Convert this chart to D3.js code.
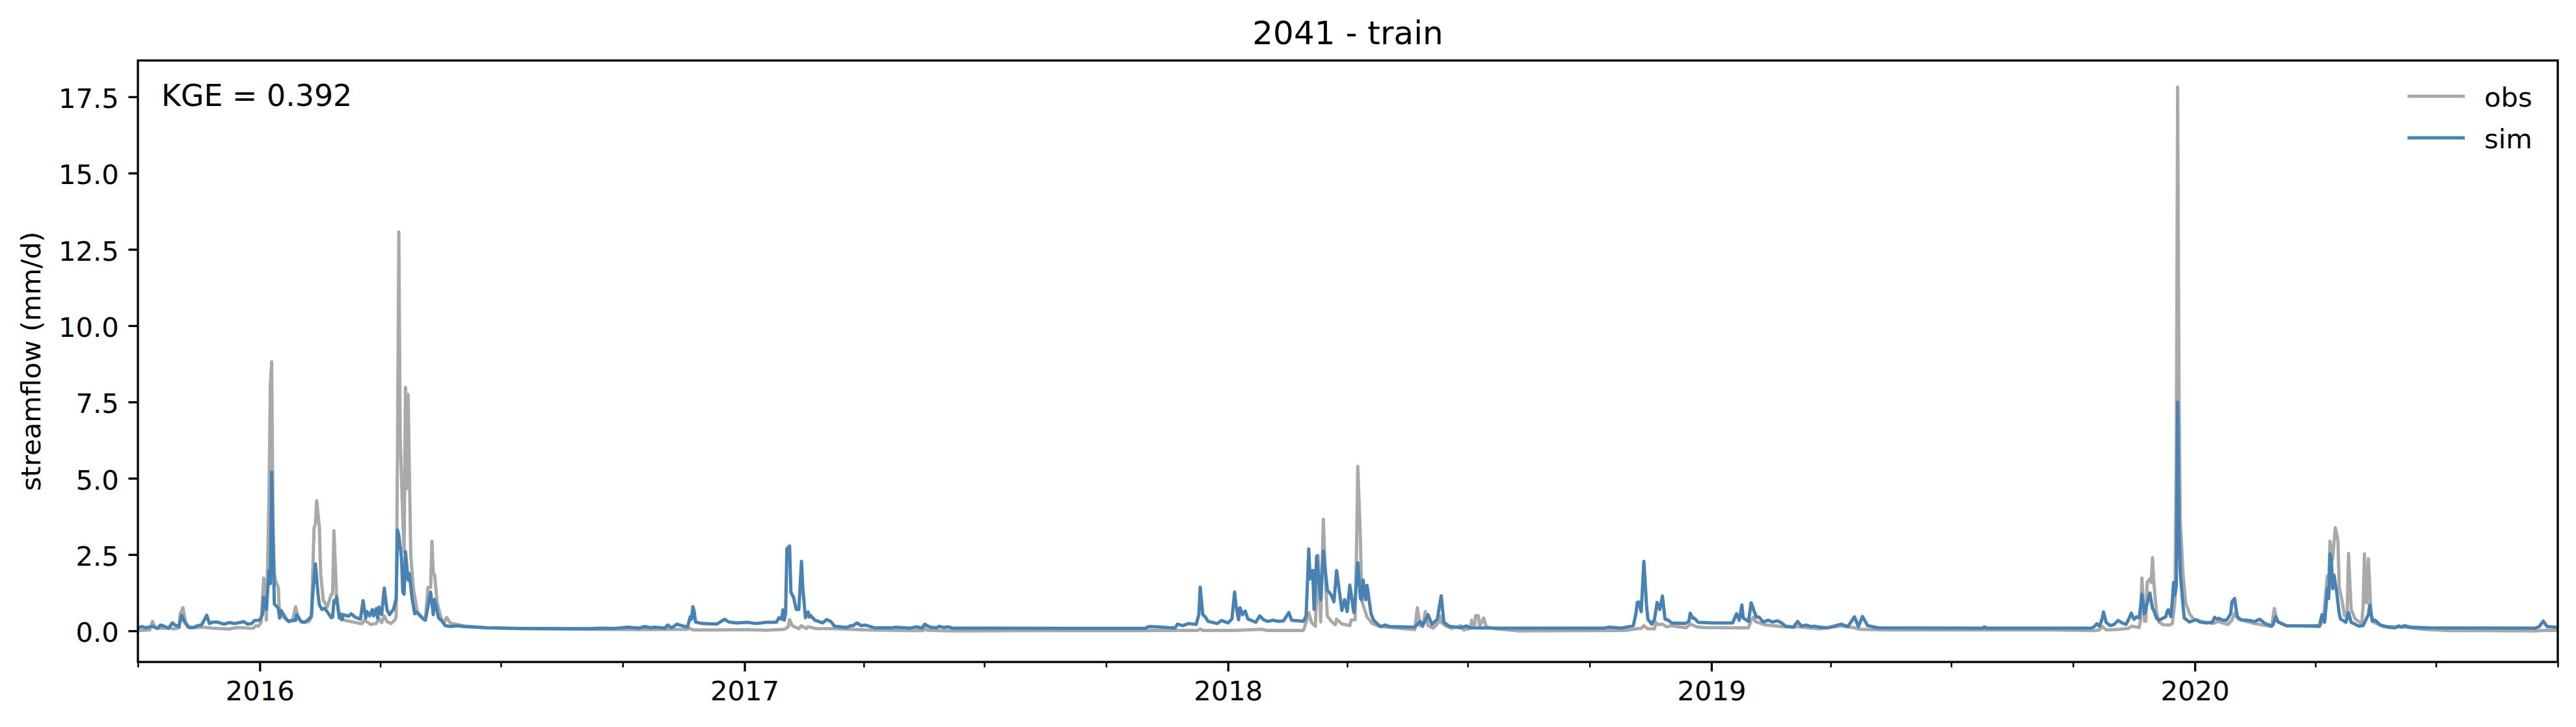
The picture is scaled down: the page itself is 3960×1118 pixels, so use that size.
<!DOCTYPE html>
<html>
<head>
<meta charset="utf-8">
<script src="https://cdn.jsdelivr.net/npm/d3@7/dist/d3.min.js"></script>
<style>html,body{margin:0;padding:0;background:#fff}svg{display:block}text{font-family:"DejaVu Sans",sans-serif;fill:#000}</style>
</head>
<body>
<script>
// Values: [days since 2015-10-01, streamflow in mm/d]
const startDate = "2015-10-01";
const endDate = "2020-10-01";
const titleText = "2041 - train";
const kgeText = "KGE = 0.392";
const yLabelText = "streamflow (mm/d)";
const yTickValues = [0, 2.5, 5, 7.5, 10, 12.5, 15, 17.5];
const yDomain = [-1.02, 18.69];
const yearTicks = ["2016-01-01","2017-01-01","2018-01-01","2019-01-01","2020-01-01"];
const seriesNames = ["obs", "sim"];

const obsSeries = [[0,.01],[9,.03],[11,.31],[13,.1],[20,.08],[24,.1],[27,.06],[31,.1],[32,.56],[34,.76],[36,.28],[39,.1],[49,.12],[56,.09],[69,.06],[75,.11],[87,.08],[89,.17],[91,.15],[93,.28],[95,1.73],[97,.35],[98,2.27],[99,4.5],[100,8.05],[101,8.82],[102,3.5],[103,1.9],[104,1.63],[106,1.42],[107,.5],[110,.45],[114,.3],[117,.38],[119,.79],[121,.42],[124,.28],[129,.3],[131,.45],[133,3.37],[134,3.5],[135,4.26],[137,3.4],[138,1.85],[140,1.0],[143,.78],[146,1.2],[147,1.2],[148,3.28],[150,1.13],[152,.48],[156,.35],[169,.23],[171,.35],[176,.21],[180,.24],[182,.42],[184,.27],[186,.49],[188,.31],[191,.24],[194,.35],[195,.46],[196,6.0],[197,13.07],[198,6.4],[200,3.68],[201,2.58],[202,7.98],[203,4.66],[204,7.75],[206,2.48],[208,1.38],[211,.63],[215,.4],[217,.35],[219,1.42],[221,1.42],[222,2.94],[223,1.89],[224,1.83],[226,.91],[229,.4],[231,.25],[233,.44],[236,.25],[242,.2],[248,.15],[264,.1],[290,.07],[340,.05],[380,.04],[415,.05],[417,.08],[419,.03],[436,.03],[460,.04],[474,.02],[488,.05],[491,.13],[492,.37],[494,.17],[499,.07],[501,.17],[503,.11],[505,.08],[506,.14],[511,.08],[526,.07],[550,.03],[583,.01],[593,.01],[594,.1],[596,.02],[615,.0],[632,.0],[700,.01],[760,.01],[800,.015],[802,.06],[804,.015],[828,.015],[848,.05],[853,.015],[880,.015],[882,.28],[884,.6],[886,.28],[889,.15],[891,2.48],[893,.29],[895,3.65],[897,1.34],[898,.49],[901,.31],[904,.2],[905,.38],[909,.23],[915,.17],[916,.36],[919,.36],[920,2.5],[921,5.39],[923,3.0],[924,.99],[928,.45],[932,.24],[938,.14],[964,.04],[966,.76],[968,.17],[970,.14],[972,.63],[974,.17],[978,.09],[982,.28],[983,.49],[984,.28],[987,.17],[992,.08],[999,.17],[1001,.03],[1006,.08],[1007,.35],[1009,.1],[1010,.5],[1012,.5],[1013,.15],[1016,.42],[1018,.13],[1025,.07],[1041,.0],[1123,.015],[1131,.065],[1135,.08],[1137,.17],[1140,.065],[1145,.065],[1146,.28],[1148,.2],[1151,.22],[1154,.13],[1158,.17],[1169,.1],[1172,.22],[1177,.13],[1182,.11],[1205,.1],[1216,.1],[1218,.35],[1220,.45],[1221,.31],[1228,.2],[1243,.13],[1254,.13],[1270,.065],[1286,.16],[1296,.1],[1300,.05],[1320,.03],[1442,.03],[1478,.01],[1481,.03],[1483,.15],[1486,.03],[1496,.05],[1503,.08],[1505,.15],[1511,.11],[1512,.35],[1513,1.73],[1515,.31],[1516,.31],[1517,1.59],[1519,1.7],[1520,1.59],[1521,2.4],[1522,1.59],[1524,.63],[1526,.28],[1529,.2],[1534,.19],[1536,.24],[1538,1.0],[1539,6.0],[1540,17.82],[1541,8.0],[1542,3.6],[1544,1.9],[1546,.92],[1549,.56],[1552,.38],[1557,.31],[1567,.24],[1570,.31],[1578,.21],[1581,.35],[1583,.58],[1586,.38],[1598,.24],[1611,.14],[1613,.73],[1615,.31],[1622,.17],[1647,.14],[1648,.21],[1650,.35],[1653,1.8],[1654,1.06],[1655,2.94],[1657,2.34],[1659,3.38],[1661,2.98],[1662,1.42],[1664,1.02],[1666,.49],[1668,.63],[1669,2.54],[1671,.7],[1674,.39],[1679,.24],[1680,.78],[1681,2.52],[1682,.92],[1683,.92],[1684,2.36],[1686,.56],[1688,.28],[1696,.14],[1712,.12],[1725,.05],[1745,.01],[1810,.0],[1819,.02],[1826,.01]];

const simSeries = [[0,.1],[3,.14],[6,.1],[11,.15],[15,.08],[17,.19],[20,.15],[23,.08],[26,.26],[28,.19],[31,.14],[33,.51],[35,.31],[38,.12],[42,.11],[45,.17],[48,.19],[52,.51],[54,.24],[56,.28],[60,.29],[65,.22],[69,.27],[73,.24],[80,.3],[83,.22],[86,.24],[88,.34],[92,.35],[94,.53],[95,1.1],[97,.7],[99,1.98],[100,1.55],[101,5.2],[102,3.0],[103,.88],[106,.74],[107,.42],[108,.67],[112,.39],[114,.31],[117,.34],[119,.34],[120,.53],[123,.31],[126,.28],[129,.38],[131,.49],[132,1.2],[134,2.2],[136,1.2],[137,.85],[139,.7],[141,.74],[144,.56],[146,.43],[147,.45],[148,.99],[149,.92],[150,1.12],[152,.42],[153,.56],[154,.36],[155,.53],[159,.48],[161,.56],[164,.45],[168,.38],[170,.99],[172,.42],[173,.63],[175,.49],[177,.7],[178,.49],[180,.73],[181,.42],[182,.78],[184,.53],[186,1.4],[188,.7],[190,.53],[193,.71],[195,1.06],[196,3.3],[197,3.12],[199,2.4],[200,1.27],[201,1.2],[202,2.59],[204,1.66],[205,1.88],[207,1.06],[209,.56],[210,.63],[213,.49],[217,.35],[218,.56],[221,1.27],[223,.53],[224,1.03],[227,.42],[229,.35],[232,.17],[236,.14],[241,.17],[246,.14],[264,.1],[290,.08],[340,.07],[350,.09],[360,.08],[370,.12],[378,.09],[383,.14],[387,.1],[390,.12],[398,.09],[400,.19],[403,.1],[407,.22],[412,.15],[415,.13],[417,.46],[418,.38],[419,.79],[420,.63],[421,.29],[426,.24],[437,.22],[443,.38],[446,.29],[452,.26],[460,.28],[467,.24],[474,.28],[482,.28],[484,.43],[486,.38],[487,.69],[488,.35],[489,.56],[490,2.69],[492,2.78],[493,1.27],[495,1.1],[497,.7],[499,.7],[501,2.28],[502,1.4],[504,.43],[506,.62],[507,.45],[508,.5],[511,.35],[517,.26],[520,.37],[523,.31],[526,.15],[535,.11],[538,.17],[540,.17],[543,.26],[546,.17],[549,.19],[556,.1],[570,.1],[572,.12],[583,.09],[588,.13],[592,.09],[594,.22],[598,.12],[603,.1],[605,.15],[608,.11],[612,.13],[615,.09],[632,.09],[700,.085],[761,.085],[763,.14],[770,.13],[780,.1],[783,.1],[785,.22],[789,.17],[793,.24],[799,.21],[801,.53],[802,1.43],[804,.53],[806,.45],[808,.31],[815,.24],[818,.34],[823,.26],[826,.39],[828,1.27],[829,.85],[831,.36],[832,.76],[834,.53],[836,.65],[838,.39],[844,.28],[847,.49],[850,.36],[853,.31],[857,.35],[861,.31],[865,.33],[869,.6],[871,.35],[880,.31],[882,.5],[884,2.68],[885,1.7],[887,1.98],[888,.7],[890,2.45],[893,1.02],[895,2.62],[898,1.34],[901,1.17],[903,.95],[905,1.98],[909,.67],[911,1.02],[913,.63],[915,1.5],[918,.6],[919,1.02],[921,2.23],[923,1.06],[924,1.02],[925,1.66],[927,1.02],[928,1.49],[931,.56],[933,.35],[938,.14],[942,.19],[945,.14],[964,.12],[968,.31],[970,.17],[974,.53],[977,.21],[981,.38],[984,1.15],[986,.28],[990,.15],[999,.1],[1003,.16],[1006,.1],[1025,.09],[1107,.09],[1111,.12],[1120,.09],[1125,.13],[1129,.17],[1131,.56],[1132,.93],[1133,.95],[1135,.63],[1137,2.28],[1139,.85],[1140,.38],[1143,.22],[1145,.38],[1147,.93],[1149,.7],[1151,1.14],[1153,.38],[1155,.36],[1158,.26],[1168,.24],[1171,.31],[1172,.58],[1174,.41],[1175,.42],[1178,.28],[1189,.26],[1204,.26],[1207,.56],[1209,.35],[1211,.85],[1212,.42],[1216,.31],[1218,.92],[1220,.67],[1222,.45],[1224,.45],[1227,.29],[1231,.35],[1234,.29],[1238,.33],[1241,.26],[1244,.15],[1250,.12],[1253,.31],[1256,.16],[1260,.19],[1263,.14],[1266,.15],[1270,.12],[1276,.1],[1286,.22],[1291,.14],[1296,.46],[1299,.14],[1302,.47],[1306,.17],[1314,.1],[1393,.09],[1394,.13],[1396,.09],[1442,.09],[1475,.09],[1477,.14],[1479,.23],[1481,.15],[1483,.4],[1484,.62],[1486,.28],[1489,.17],[1492,.21],[1495,.34],[1498,.26],[1501,.21],[1503,.38],[1505,.58],[1507,.38],[1509,.46],[1511,.42],[1513,1.2],[1515,.56],[1519,1.24],[1521,.74],[1522,.67],[1524,.42],[1526,.34],[1527,.37],[1531,.46],[1532,.63],[1533,.69],[1535,.46],[1537,1.59],[1538,1.17],[1539,1.49],[1540,7.5],[1541,3.5],[1542,1.9],[1544,.85],[1545,.42],[1549,.29],[1554,.37],[1557,.29],[1562,.26],[1566,.28],[1568,.44],[1570,.38],[1571,.41],[1574,.35],[1577,.35],[1580,.56],[1581,.95],[1583,1.06],[1585,.46],[1588,.36],[1595,.34],[1598,.3],[1602,.38],[1606,.24],[1611,.16],[1612,.2],[1614,.46],[1616,.29],[1622,.17],[1647,.16],[1649,.53],[1651,.28],[1652,.8],[1653,1.38],[1654,1.06],[1655,2.52],[1656,2.38],[1657,1.38],[1658,1.83],[1660,1.3],[1662,.56],[1663,.39],[1667,.28],[1669,.6],[1671,.28],[1677,.15],[1680,.17],[1684,.53],[1685,.85],[1687,.31],[1689,.35],[1693,.19],[1699,.12],[1704,.1],[1707,.16],[1709,.12],[1711,.17],[1716,.12],[1729,.1],[1810,.09],[1813,.14],[1816,.32],[1819,.14],[1826,.12]];

const width = 3960, height = 1118;
const plotLeft = 212, plotRight = 3932, plotTop = 93, plotBottom = 1018;
const pt = 300 / 72;

const start = d3.isoParse(startDate);
const toDate = day => d3.utcDay.offset(start, day);

const x = d3.scaleUtc().domain([start, d3.isoParse(endDate)]).range([plotLeft, plotRight]);
const y = d3.scaleLinear().domain(yDomain).range([plotBottom, plotTop]);

const svg = d3.select("body").append("svg").attr("width", width).attr("height", height);
svg.append("rect").attr("width", width).attr("height", height).attr("fill", "#fff");
svg.append("defs").append("clipPath").attr("id", "plot").append("rect")
  .attr("x", plotLeft).attr("y", plotTop).attr("width", plotRight - plotLeft).attr("height", plotBottom - plotTop);

const line = d3.line().x(d => x(toDate(d[0]))).y(d => y(d[1]));
const colors = {obs: "#a9a9a9", sim: "#4682b4"};
const widths = {obs: 1.2 * pt, sim: 1.2 * pt};

const marks = svg.append("g").attr("clip-path", "url(#plot)");
[["obs", obsSeries], ["sim", simSeries]].forEach(([name, data]) => {
  marks.append("path").datum(data).attr("d", line).attr("fill", "none")
    .attr("stroke", colors[name]).attr("stroke-width", widths[name])
    .attr("stroke-linejoin", "round").attr("stroke-linecap", "square");
});

function styleAxis(g, w, size) {
  g.select(".domain").remove();
  g.selectAll("line").attr("stroke", "#000").attr("stroke-width", w);
  g.selectAll("text").attr("font-size", size).attr("fill", "#000");
}

const tickFont = 10 * pt;
const minorTicks = d3.utcMonth.range(start, d3.utcDay.offset(d3.isoParse(endDate), 1), 3)
  .filter(d => d.getUTCMonth() !== 0);
svg.append("g").attr("transform", `translate(0,${plotBottom})`)
  .call(d3.axisBottom(x).tickValues(minorTicks).tickSize(2 * pt).tickFormat(""))
  .call(g => styleAxis(g, 0.6 * pt, tickFont));
svg.append("g").attr("transform", `translate(0,${plotBottom})`)
  .call(d3.axisBottom(x).tickValues(yearTicks.map(d3.isoParse)).tickSize(3.5 * pt).tickPadding(3.5 * pt).tickFormat(d3.utcFormat("%Y")))
  .call(g => styleAxis(g, 0.8 * pt, tickFont));
svg.append("g").attr("transform", `translate(${plotLeft},0)`)
  .call(d3.axisLeft(y).tickValues(yTickValues).tickSize(3.5 * pt).tickPadding(3.5 * pt).tickFormat(d3.format(".1f")))
  .call(g => styleAxis(g, 0.8 * pt, tickFont))
  .call(g => g.selectAll("text").attr("dy", "0.40em"));

svg.append("rect").attr("x", plotLeft).attr("y", plotTop)
  .attr("width", plotRight - plotLeft).attr("height", plotBottom - plotTop)
  .attr("fill", "none").attr("stroke", "#000").attr("stroke-width", 0.8 * pt);

svg.append("text").attr("x", (plotLeft + plotRight) / 2).attr("y", 68)
  .attr("text-anchor", "middle").attr("font-size", 12 * pt).text(titleText);
svg.append("text").attr("transform", `translate(62,${(plotTop + plotBottom) / 2}) rotate(-90)`)
  .attr("text-anchor", "middle").attr("font-size", tickFont).text(yLabelText);
svg.append("text").attr("x", 248).attr("y", 163).attr("font-size", 11 * pt).text(kgeText);

const legend = svg.append("g");
seriesNames.forEach((name, i) => {
  const ly = 148 + i * 64;
  legend.append("line").attr("x1", 3701).attr("x2", 3789).attr("y1", ly).attr("y2", ly)
    .attr("stroke", colors[name]).attr("stroke-width", widths[name]);
  legend.append("text").attr("x", 3819).attr("y", ly + 16).attr("font-size", tickFont).text(name);
});
</script>
</body>
</html>
